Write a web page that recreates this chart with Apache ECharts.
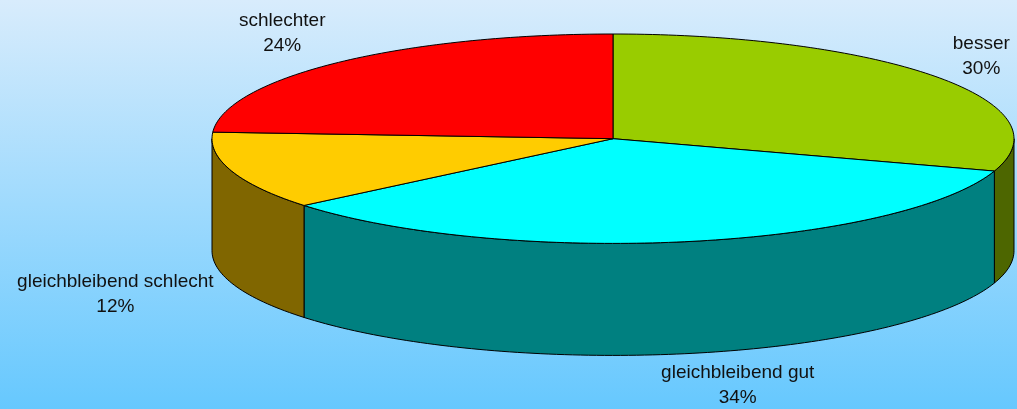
<!DOCTYPE html>
<html>
<head>
<meta charset="utf-8">
<script src="https://cdn.jsdelivr.net/npm/echarts@6/dist/echarts.min.js"></script>
<style>
    html, body { margin: 0; padding: 0; }
    #chart { width: 1017px; height: 409px; }
</style>
</head>
<body>
<div id="chart"></div>
<script>
var categories = ['besser', 'gleichbleibend gut', 'gleichbleibend schlecht', 'schlechter'];
var values = [30, 34, 12, 24];
var topColors = ['#99CC00', '#00FFFF', '#FFCC00', '#FF0000'];
var sideColors = ['#4D6600', '#008080', '#806600', '#800000'];

var labelFont = '19px "Liberation Sans", Arial, sans-serif';

function textWidth(str) {
    var ctx = document.createElement('canvas').getContext('2d');
    ctx.font = labelFont;
    var w = 0;
    str.split('\n').forEach(function(line) {
        w = Math.max(w, ctx.measureText(line).width);
    });
    return w;
}

window.onload = function() {
    var chart = echarts.init(document.getElementById('chart'));

    var total = values.reduce(function(a, b) { return a + b; }, 0);
    var seriesData = [];
    var cum = 0;
    for (var i = 0; i < values.length; i++) {
        seriesData.push([cum, cum + values[i], values[i]]);
        cum += values[i];
    }

    // geometry of the tilted pie (pixels)
    var cx = 613, cy = 138.7, rx = 401, ry = 104.7, depth = 112;
    var labelRx = 420, labelRy = 140;
    // small manual shifts for labels that Excel pushed aside
    var labelShift = [[0, 0], [46, -3], [0, 0], [0, -3]];

    function pt(theta, dy) {
        return [cx + rx * Math.sin(theta), cy - ry * Math.cos(theta) + (dy || 0)];
    }
    function arc(a1, a2, dy) {
        var pts = [];
        var n = Math.max(2, Math.ceil((a2 - a1) / 0.02));
        for (var k = 0; k <= n; k++) {
            pts.push(pt(a1 + (a2 - a1) * k / n, dy));
        }
        return pts;
    }

    function renderItem(params, api) {
        var idx = params.dataIndex;
        var a1 = api.value(0) / total * Math.PI * 2;
        var a2 = api.value(1) / total * Math.PI * 2;
        var children = [];

        // front wall (visible between 90 and 270 degrees)
        var w1 = Math.max(a1, Math.PI / 2), w2 = Math.min(a2, Math.PI * 1.5);
        if (w2 > w1) {
            var topArc = arc(w1, w2, 0);
            var botArc = arc(w1, w2, depth).reverse();
            children.push({
                type: 'polygon',
                shape: { points: topArc.concat(botArc) },
                style: { fill: sideColors[idx], stroke: '#000', lineWidth: 1 },
                z2: 1
            });
        }

        // top face
        children.push({
            type: 'polygon',
            shape: { points: [[cx, cy]].concat(arc(a1, a2, 0)) },
            style: { fill: topColors[idx], stroke: '#000', lineWidth: 1 },
            z2: 2
        });

        // label: block anchored at its edge, lines centred inside the block
        var txt = categories[idx] + '\n' + Math.round(api.value(2) / total * 100) + '%';
        var half = textWidth(txt) / 2;
        var mid = (a1 + a2) / 2;
        var s = Math.sin(mid), c = Math.cos(mid);
        var lx = cx + labelRx * s + labelShift[idx][0];
        var ly = cy - labelRy * c + (c < 0 ? depth : 0) + labelShift[idx][1];
        if (s > 0.5) lx += half;
        else if (s < -0.5) lx -= half;
        children.push({
            type: 'text',
            x: lx,
            y: ly,
            style: {
                text: txt,
                fill: '#111',
                font: labelFont,
                lineHeight: 25,
                align: 'center',
                verticalAlign: 'middle'
            },
            z2: 3
        });

        return { type: 'group', children: children };
    }

    chart.setOption({
        backgroundColor: new echarts.graphic.LinearGradient(0, 0, 0, 1, [
            { offset: 0, color: '#D8ECFC' },
            { offset: 1, color: '#66C8FE' }
        ]),
        animation: false,
        series: [{
            type: 'custom',
            coordinateSystem: 'none',
            renderItem: renderItem,
            data: seriesData
        }]
    });
};
</script>
</body>
</html>
